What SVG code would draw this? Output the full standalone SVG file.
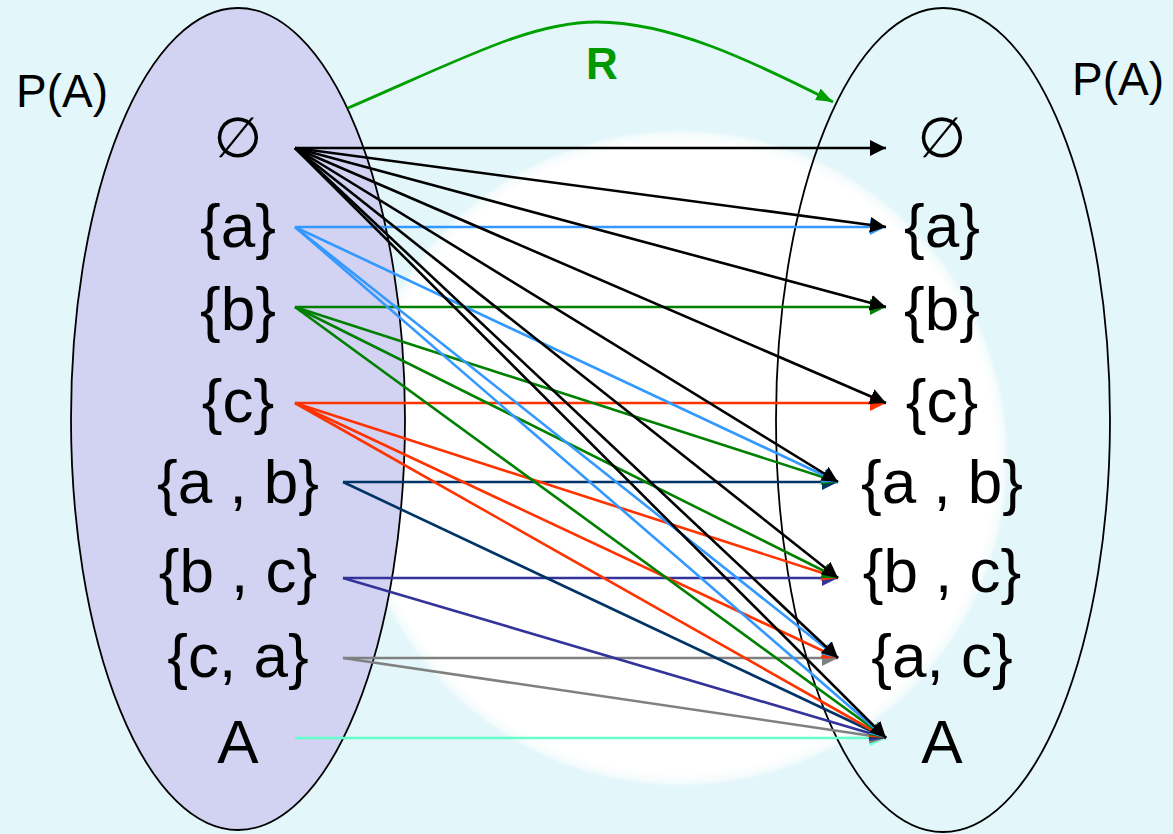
<svg xmlns="http://www.w3.org/2000/svg" width="1173" height="834" viewBox="0 0 1173 834">
<defs>
<radialGradient id="glow" cx="680" cy="458" r="330" gradientUnits="userSpaceOnUse">
<stop offset="0" stop-color="#ffffff"/>
<stop offset="0.955" stop-color="#ffffff"/>
<stop offset="0.985" stop-color="#f4fbfc"/>
<stop offset="1" stop-color="#e3f6fa" stop-opacity="0"/>
</radialGradient>
<marker id="mk" viewBox="0 0 16 16" refX="16" refY="8" markerWidth="16" markerHeight="16" markerUnits="userSpaceOnUse" orient="auto"><path d="M0,0 L16,8 L0,16 z" fill="#000"/></marker>
<marker id="mbl" viewBox="0 0 16 16" refX="16" refY="8" markerWidth="16" markerHeight="16" markerUnits="userSpaceOnUse" orient="auto"><path d="M0,0 L16,8 L0,16 z" fill="#3399ff"/></marker>
<marker id="mgr" viewBox="0 0 16 16" refX="16" refY="8" markerWidth="16" markerHeight="16" markerUnits="userSpaceOnUse" orient="auto"><path d="M0,0 L16,8 L0,16 z" fill="#008000"/></marker>
<marker id="mrd" viewBox="0 0 16 16" refX="16" refY="8" markerWidth="16" markerHeight="16" markerUnits="userSpaceOnUse" orient="auto"><path d="M0,0 L16,8 L0,16 z" fill="#ff3300"/></marker>
<marker id="mnv" viewBox="0 0 16 16" refX="16" refY="8" markerWidth="16" markerHeight="16" markerUnits="userSpaceOnUse" orient="auto"><path d="M0,0 L16,8 L0,16 z" fill="#003366"/></marker>
<marker id="min" viewBox="0 0 16 16" refX="16" refY="8" markerWidth="16" markerHeight="16" markerUnits="userSpaceOnUse" orient="auto"><path d="M0,0 L16,8 L0,16 z" fill="#333399"/></marker>
<marker id="mgy" viewBox="0 0 16 16" refX="16" refY="8" markerWidth="16" markerHeight="16" markerUnits="userSpaceOnUse" orient="auto"><path d="M0,0 L16,8 L0,16 z" fill="#808080"/></marker>
<marker id="maq" viewBox="0 0 16 16" refX="16" refY="8" markerWidth="16" markerHeight="16" markerUnits="userSpaceOnUse" orient="auto"><path d="M0,0 L16,8 L0,16 z" fill="#66ffcc"/></marker>
<marker id="mR" viewBox="0 0 16 12" refX="16" refY="6" markerWidth="17" markerHeight="13" markerUnits="userSpaceOnUse" orient="auto"><path d="M0,0 L16,6 L0,12 z" fill="#009f00"/></marker>
<style>
.lbl{font-family:"Liberation Sans",Arial,sans-serif;font-size:62px;fill:#000;text-anchor:middle}
.es{font-family:"DejaVu Sans","Liberation Sans",sans-serif;font-size:56px;fill:#000;text-anchor:middle}
.title{font-family:"Liberation Sans",Arial,sans-serif;font-size:46px;fill:#000}
.c{fill:none;stroke-width:2.6}
.k{stroke:#000;marker-end:url(#mk)}
.bl{stroke:#3399ff;marker-end:url(#mbl)}
.gr{stroke:#008000;marker-end:url(#mgr)}
.rd{stroke:#ff3300;marker-end:url(#mrd)}
.nv{stroke:#003366;marker-end:url(#mnv)}
.in{stroke:#333399;marker-end:url(#min)}
.gy{stroke:#808080;marker-end:url(#mgy)}
.aq{stroke:#66ffcc;marker-end:url(#maq)}
</style>
</defs>
<rect width="1173" height="834" fill="#e3f6fa"/>
<circle cx="680" cy="458" r="330" fill="url(#glow)"/>
<g id="set-left">
<ellipse cx="238" cy="419" rx="167" ry="411" fill="#d2d2f2" stroke="#000" stroke-width="1.8"/>
<text class="title" x="16" y="107">P(A)</text>
</g>
<g id="set-right">
<ellipse cx="943" cy="420" rx="167" ry="412" fill="none" stroke="#000" stroke-width="1.8"/>
<text class="title" x="1072" y="95">P(A)</text>
</g>
<g id="connectors">
<g id="relation-R">
<path d="M348,108 C460,60 530,22 597,22 C670,22 750,60 833,102" fill="none" stroke="#009f00" stroke-width="2.8" marker-end="url(#mR)"/>
<text x="602" y="79" font-family="Liberation Sans,Arial,sans-serif" font-size="44" font-weight="bold" fill="#009900" text-anchor="middle">R</text>
</g>
<path class="c aq" d="M295,738 L886,738"/>
<path class="c gy" d="M343,658 L838,658"/>
<path class="c gy" d="M343,658 L886,738"/>
<path class="c in" d="M343,578 L838,578"/>
<path class="c in" d="M343,578 L886,738"/>
<path class="c nv" d="M343,482 L838,482"/>
<path class="c nv" d="M343,482 L886,738"/>
<path class="c rd" d="M295,403 L886,403"/>
<path class="c rd" d="M295,403 L838,578"/>
<path class="c rd" d="M295,403 L838,658"/>
<path class="c rd" d="M295,403 L886,738"/>
<path class="c gr" d="M295,307 L886,307"/>
<path class="c gr" d="M295,307 L838,482"/>
<path class="c gr" d="M295,307 L838,578"/>
<path class="c gr" d="M295,307 L886,738"/>
<path class="c bl" d="M295,227 L886,227"/>
<path class="c bl" d="M295,227 L838,482"/>
<path class="c bl" d="M295,227 L838,658"/>
<path class="c bl" d="M295,227 L886,738"/>
<path class="c k" d="M295,148 L886,148"/>
<path class="c k" d="M295,148 L886,227"/>
<path class="c k" d="M295,148 L886,307"/>
<path class="c k" d="M295,148 L886,403"/>
<path class="c k" d="M295,148 L838,482"/>
<path class="c k" d="M295,148 L838,578"/>
<path class="c k" d="M295,148 L838,658"/>
<path class="c k" d="M295,148 L886,738"/>
</g>
<g id="L-empty"><text class="es" x="238" y="157">∅</text></g>
<g id="L-a"><text class="lbl" x="238" y="247">{a}</text></g>
<g id="L-b"><text class="lbl" x="238" y="330">{b}</text></g>
<g id="L-c"><text class="lbl" x="238" y="422">{c}</text></g>
<g id="L-ab"><text class="lbl" x="238" y="503">{a , b}</text></g>
<g id="L-bc"><text class="lbl" x="238" y="592">{b , c}</text></g>
<g id="L-ca"><text class="lbl" x="238" y="677">{c, a}</text></g>
<g id="L-A"><text class="lbl" x="238" y="763">A</text></g>
<g id="R-empty"><text class="es" x="942" y="157">∅</text></g>
<g id="R-a"><text class="lbl" x="942" y="247">{a}</text></g>
<g id="R-b"><text class="lbl" x="942" y="330">{b}</text></g>
<g id="R-c"><text class="lbl" x="942" y="422">{c}</text></g>
<g id="R-ab"><text class="lbl" x="942" y="503">{a , b}</text></g>
<g id="R-bc"><text class="lbl" x="942" y="592">{b , c}</text></g>
<g id="R-ac"><text class="lbl" x="942" y="677">{a, c}</text></g>
<g id="R-A"><text class="lbl" x="942" y="763">A</text></g>
</svg>
